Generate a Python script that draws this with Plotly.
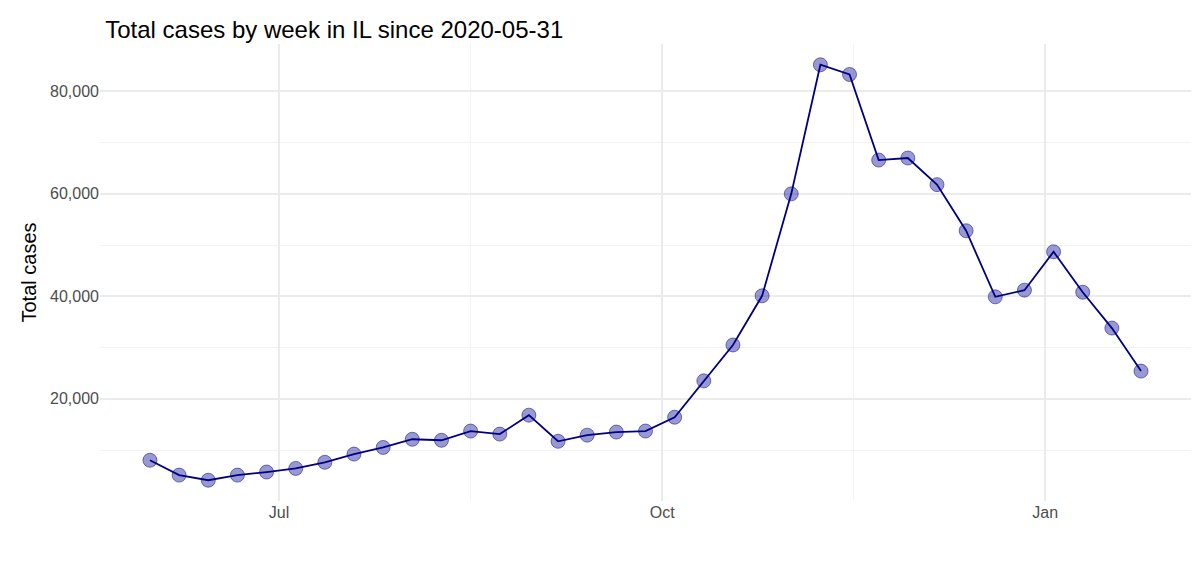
import plotly.graph_objects as go
import pandas as pd

dates = pd.date_range("2020-05-31", periods=35, freq="7D")
cases = [8000, 5100, 4100, 5100, 5700, 6400, 7600, 9200, 10500, 12100, 11900, 13700,
         13100, 16800, 11700, 12900, 13500, 13700, 16400, 23500, 30500, 40100, 60000,
         85200, 83300, 66600, 67000, 61800, 52800, 39900, 41200, 48700, 40800, 33800, 25400]
x_ticks = ["2020-07-01", "2020-10-01", "2021-01-01"]
x_ticktext = ["Jul", "Oct", "Jan"]
x_minor = ["2020-08-16", "2020-11-16"]
y_ticks = [20000, 40000, 60000, 80000]
y_minor = [10000, 30000, 50000, 70000]

fig = go.Figure()
fig.add_trace(go.Scatter(x=dates, y=cases, mode="lines", line=dict(color="#00007f", width=1.8),
                         hoverinfo="skip"))
fig.add_trace(go.Scatter(x=dates, y=cases, mode="markers",
                         marker=dict(size=14, color="rgba(0,0,139,0.4)",
                                     line=dict(color="rgba(0,0,139,0.5)", width=1))))
grid = "#ebebeb"
fig.update_layout(
    width=1200, height=565, showlegend=False,
    plot_bgcolor="white", paper_bgcolor="white",
    margin=dict(l=92, r=17, t=36, b=72),
    font=dict(family="Liberation Sans, Arial", color="#4d4d4d"),
    title=dict(text="Total cases by week in IL since 2020-05-31", x=0.081, xanchor="left",
               y=0.962, yanchor="middle", font=dict(size=24, color="black")),
    xaxis=dict(range=["2020-05-19", "2021-02-05"], tickvals=x_ticks, ticktext=x_ticktext,
               showgrid=True, gridcolor=grid, gridwidth=1.6, zeroline=False, showline=False,
               ticks="", tickfont=dict(size=16),
               minor=dict(tickvals=x_minor, showgrid=True, gridcolor="#f3f3f3", gridwidth=1)),
    yaxis=dict(range=[45, 89255], tickvals=y_ticks, tickformat=",", showgrid=True,
               gridcolor=grid, gridwidth=1.6, zeroline=False, showline=False, ticks="",
               tickfont=dict(size=16),
               title=dict(text="Total cases", font=dict(size=20, color="black"), standoff=8),
               minor=dict(tickvals=y_minor, showgrid=True, gridcolor="#f3f3f3", gridwidth=1)),
    annotations=[dict(text="Data from IDPH", xref="paper", yref="paper", x=1, y=-0.165,
                      xanchor="right", yanchor="middle", showarrow=False,
                      font=dict(size=15, color="black"))],
)
fig.write_html("out.html")
